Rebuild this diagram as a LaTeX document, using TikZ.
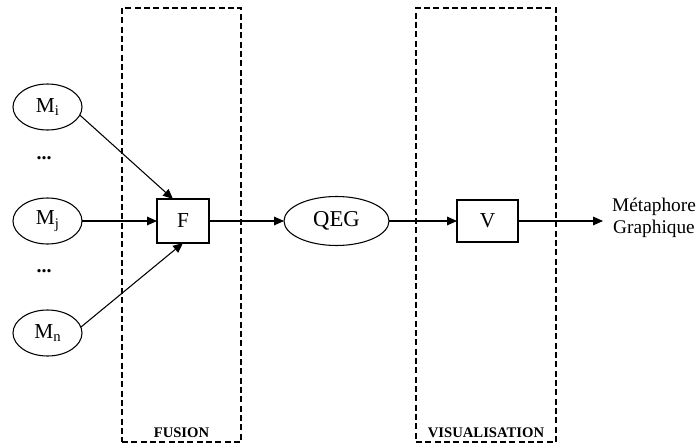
\documentclass[tikz,border=0pt]{standalone}
\usepackage{fontspec}
\setmainfont{Liberation Serif}
\usetikzlibrary{shapes.geometric,arrows.meta,calc}

\newcommand{\lowsub}[1]{\raisebox{-0.35ex}{\fontsize{11}{12}\selectfont #1}}

\begin{document}
\begin{tikzpicture}[
  x=0.75pt, y=-0.75pt,
  every node/.style={inner sep=0pt, outer sep=0pt},
  src/.style={draw, ellipse, line width=0.8pt, minimum width=51.75pt, minimum height=34.5pt, font=\fontsize{16}{18}\selectfont},
  proc/.style={draw, rectangle, line width=0.8pt, font=\fontsize{16}{18}\selectfont},
  stage/.style={draw, dash pattern=on 4.5pt off 2.5pt, line width=0.9pt},
  stagelbl/.style={font=\fontsize{11}{13}\selectfont\bfseries},
  flow/.style={line width=0.8pt, -{Triangle[length=7.5pt, width=6.5pt]}},
  dots/.style={font=\fontsize{15}{17}\selectfont\bfseries}
]
\useasboundingbox (0,0) rectangle (696,446);

% processing stages (dashed frames)
\node[stage, minimum width=89.25pt, minimum height=325.5pt] (fusion) at (181.5,225) {};
\node[stage, minimum width=105pt, minimum height=325.5pt] (visu) at (486,225) {};
\node[stagelbl] (fusionlbl) at (181.5,433) {FUSION};
\node[stagelbl] (visulbl) at (486,433) {VISUALISATION};

% input models
\node[src] (Mi) at (47.5,107) {M\lowsub{i}};
\node[src] (Mj) at (47.5,221) {M\lowsub{j}};
\node[src] (Mn) at (47.5,333) {M\lowsub{n}};
\node[dots] (d1) at (44,158) {...};
\node[dots] (d2) at (44,271) {...};

% fusion, intermediate result, visualisation
\node[proc, minimum width=39pt, minimum height=33pt] (F) at (183,221) {F};
\node[src, minimum width=78.75pt, minimum height=36.75pt, font=\fontsize{17}{19}\selectfont] (QEG) at (336.5,221) {QEG};
\node[proc, minimum width=45.75pt, minimum height=31.5pt] (V) at (487.5,221) {V};

\coordinate (out) at (603,221);
\node[align=center, font=\fontsize{14.5}{17}\selectfont] (meta) at (654,218) {Métaphore\\Graphique};

% connectors
\draw[flow] (Mi.-14) -- ($(F.north)+(-10,0)$);
\draw[flow] (Mj) -- (F);
\draw[flow] (Mn.10) -- (F.south);
\draw[flow] (F) -- (QEG);
\draw[flow] (QEG) -- (V);
\draw[flow] (V) -- (out);
\end{tikzpicture}
\end{document}
